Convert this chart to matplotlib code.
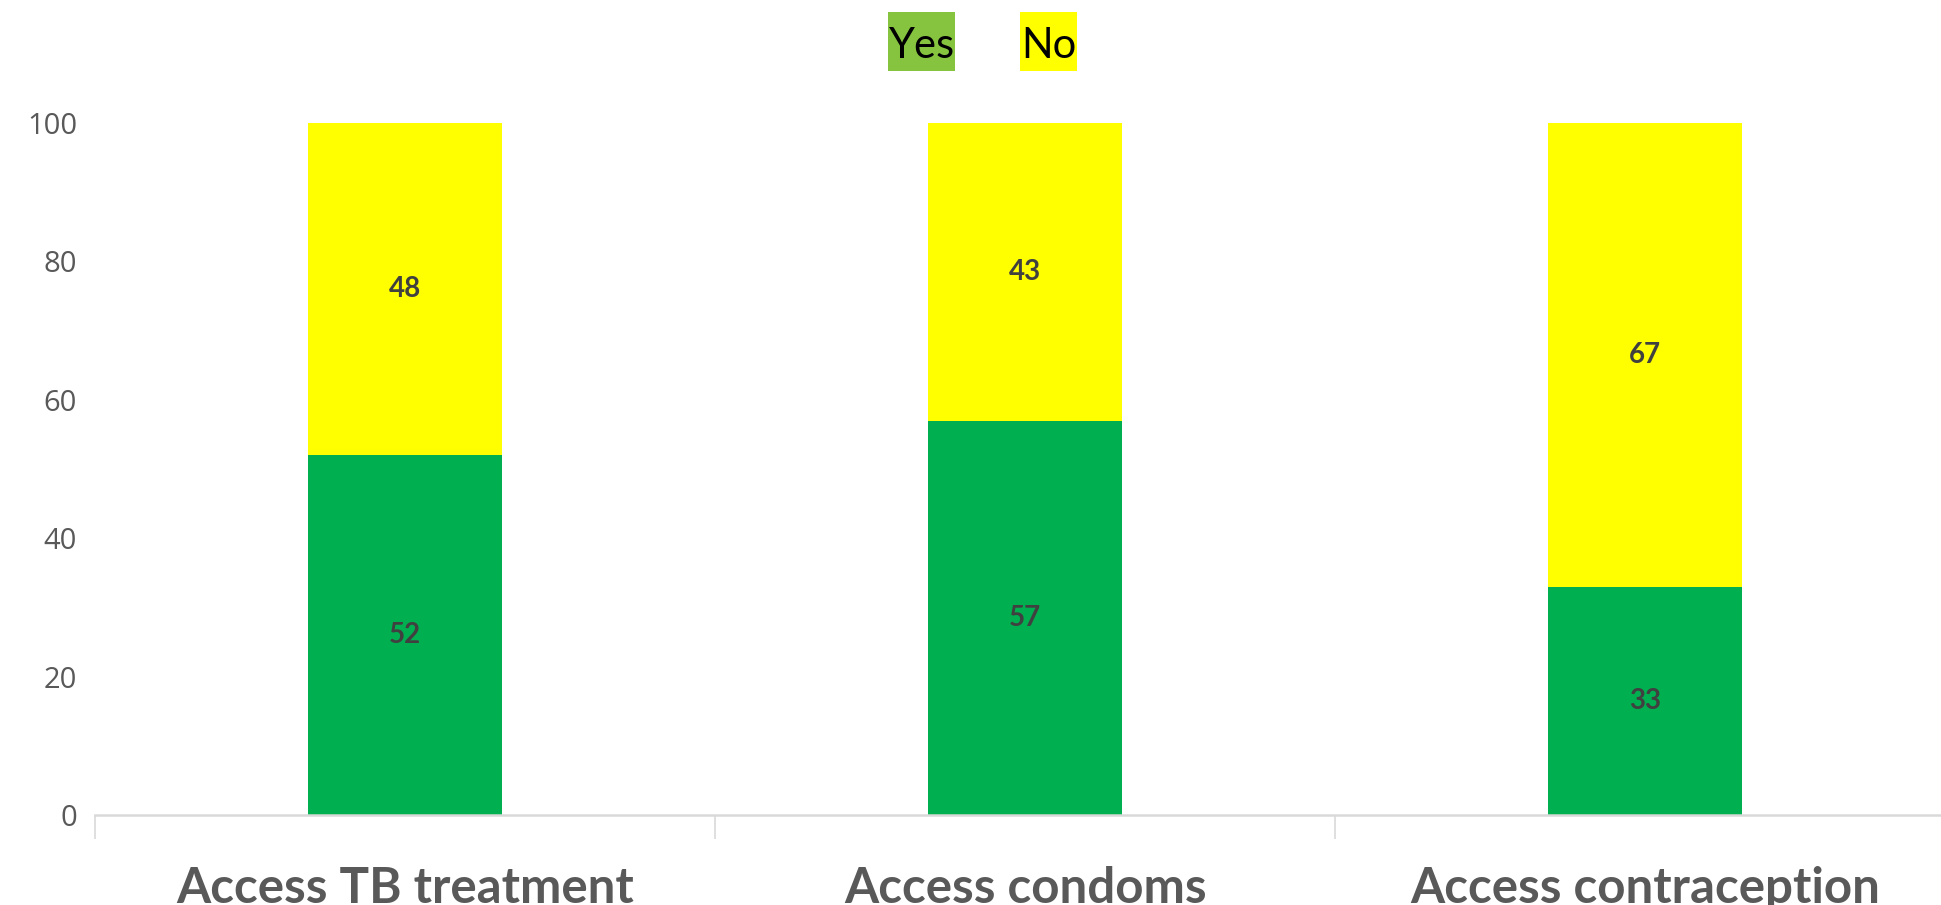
import matplotlib
matplotlib.use("Agg")
import matplotlib.pyplot as plt
from matplotlib.patches import Rectangle
import numpy as np

categories = ['Access TB treatment', 'Access condoms', 'Access contraception']
yes_vals = [52, 57, 33]
no_vals = [48, 43, 67]
yticks = [0, 20, 40, 60, 80, 100]

green = '#00B050'
yellow = '#FFFF00'

fig = plt.figure(figsize=(19.41, 9.05), dpi=100)
ax = fig.add_axes([95/1941, 90/905, 1 - 95/1941, 692/905])

x = np.arange(len(categories))
w = 0.313
ax.bar(x, yes_vals, w, color=green, zorder=2)
ax.bar(x, no_vals, w, bottom=yes_vals, color=yellow, zorder=2)

for i in range(len(categories)):
    ax.text(x[i], yes_vals[i] / 2, str(yes_vals[i]), ha='center', va='center',
            fontsize=20, fontweight='bold', color='#404040', family='Lato')
    ax.text(x[i], yes_vals[i] + no_vals[i] / 2, str(no_vals[i]), ha='center', va='center',
            fontsize=20, fontweight='bold', color='#404040', family='Lato')

ax.set_xlim(-0.5, 2.477)
ax.set_ylim(0, 100)
ax.set_yticks(yticks)
ax.set_yticklabels([str(v) for v in yticks], family='Open Sans', fontsize=21, color='#595959')
ax.tick_params(axis='y', length=0, pad=13)

# boundaries as major ticks, category names as minor tick labels
ax.set_xticks([-0.5, 0.5, 1.5])
ax.set_xticklabels([])
ax.tick_params(axis='x', which='major', length=17, width=1.2, color='#D9D9D9', direction='out')
ax.set_xticks(x, minor=True)
ax.set_xticklabels(categories, minor=True, fontsize=35.5, fontweight='bold', color='#595959', family='Lato')
ax.tick_params(axis='x', which='minor', length=0, pad=37)

for s in ['left', 'right', 'top']:
    ax.spines[s].set_visible(False)
ax.spines['bottom'].set_color('#D9D9D9')
ax.spines['bottom'].set_linewidth(1.8)

# legend: labels with highlighted backgrounds
H = 905.0
W = 1941.0
fig.patches.append(Rectangle((888/W, 1 - 71/H), 67/W, 59/H, transform=fig.transFigure,
                             fc='#86C440', ec='none'))
fig.patches.append(Rectangle((1020/W, 1 - 71/H), 57/W, 59/H, transform=fig.transFigure,
                             fc=yellow, ec='none'))
fig.text(921.5/W, 1 - 58/H, 'Yes', ha='center', va='baseline', fontsize=30, family='Lato', color='black')
fig.text(1048.5/W, 1 - 58/H, 'No', ha='center', va='baseline', fontsize=30, family='Lato', color='black')

fig.savefig('out.png', dpi=100)
